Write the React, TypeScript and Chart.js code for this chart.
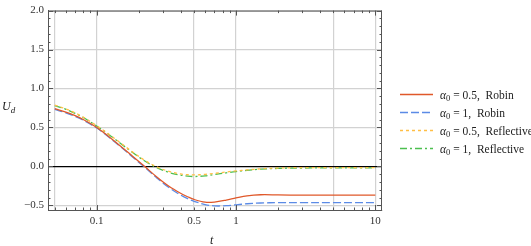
import { useEffect, useRef } from "react";
import { Chart, registerables } from "chart.js";

Chart.register(...registerables);

const tValues = [0.05, 0.06, 0.07, 0.08, 0.1, 0.12, 0.15, 0.18, 0.22, 0.27, 0.33, 0.4, 0.45, 0.5, 0.6, 0.7, 0.85, 1, 1.2, 1.5, 2, 3, 5, 7, 10];
const robinA05 = [0.741, 0.698, 0.651, 0.602, 0.5, 0.393, 0.252, 0.133, 0.002, -0.136, -0.255, -0.345, -0.39, -0.425, -0.46, -0.458, -0.433, -0.405, -0.378, -0.364, -0.366, -0.37, -0.37, -0.37, -0.37];
const robinA1 = [0.731, 0.688, 0.641, 0.593, 0.492, 0.386, 0.245, 0.124, -0.008, -0.148, -0.272, -0.368, -0.415, -0.448, -0.49, -0.507, -0.505, -0.493, -0.48, -0.47, -0.466, -0.466, -0.466, -0.466, -0.466];
const reflA05 = [0.785, 0.738, 0.686, 0.632, 0.522, 0.424, 0.294, 0.188, 0.08, -0.005, -0.065, -0.097, -0.107, -0.11, -0.103, -0.09, -0.072, -0.058, -0.045, -0.031, -0.021, -0.016, -0.015, -0.015, -0.015];
const reflA1 = [0.78, 0.733, 0.681, 0.627, 0.518, 0.419, 0.288, 0.181, 0.072, -0.017, -0.078, -0.112, -0.125, -0.13, -0.122, -0.105, -0.083, -0.066, -0.051, -0.036, -0.026, -0.021, -0.02, -0.02, -0.02];

const alphaValues = ["0.5", "1", "0.5", "1"];
const conditionNames = ["Robin", "Robin", "Reflective", "Reflective"];
const seriesColors = ["#e0582a", "#5b8be6", "#ffbe45", "#4cbf4f"];
const seriesDashes = [[], [8, 3], [3, 3], [7, 3, 2, 3]];

const xTickValues = [0.05, 0.1, 0.5, 1, 5, 10];
const xTickLabels = ["", "0.1", "0.5", "1", "", "10"];
const yTickValues = [-0.5, 0, 0.5, 1, 1.5, 2];

const SERIF = "'Liberation Serif', 'DejaVu Serif', serif";

export default function App() {
  const ref = useRef<HTMLCanvasElement | null>(null);
  useEffect(() => {
    const canvas = ref.current;
    if (!canvas) return;
    const all = [robinA05, robinA1, reflA05, reflA1];
    const framePlugin = {
      id: "framePlugin",
      afterDraw(chart: any) {
        const ctx = chart.ctx as CanvasRenderingContext2D;
        const { left, right, top, bottom } = chart.chartArea;
        const xs = chart.scales.x;
        const ys = chart.scales.y;
        ctx.save();
        ctx.strokeStyle = "#555";
        ctx.lineWidth = 1;
        ctx.setLineDash([]);
        ctx.beginPath();
        ctx.moveTo(left, top + 0.5);
        ctx.lineTo(right, top + 0.5);
        ctx.moveTo(right - 0.5, top);
        ctx.lineTo(right - 0.5, bottom);
        ctx.stroke();
        ctx.beginPath();
        for (let i = -5; i <= 20; i++) {
          const v = i / 10;
          const y = Math.round(ys.getPixelForValue(v)) + 0.5;
          const len = i % 5 === 0 ? 5 : 2.5;
          ctx.moveTo(left, y);
          ctx.lineTo(left + len, y);
          ctx.moveTo(right, y);
          ctx.lineTo(right - len, y);
        }
        const minor: number[] = [];
        for (const d of [0.01, 0.1, 1]) for (let k = 2; k <= 9; k++) minor.push(d * k);
        for (const v of minor) {
          if (v < xs.min || v > xs.max) continue;
          const x = Math.round(xs.getPixelForValue(v)) + 0.5;
          ctx.moveTo(x, bottom);
          ctx.lineTo(x, bottom - 2.5);
          ctx.moveTo(x, top);
          ctx.lineTo(x, top + 2.5);
        }
        for (const v of [0.1, 1, 10]) {
          const x = Math.round(xs.getPixelForValue(v)) + 0.5;
          ctx.moveTo(x, bottom);
          ctx.lineTo(x, bottom - 5);
          ctx.moveTo(x, top);
          ctx.lineTo(x, top + 5);
        }
        ctx.stroke();

        ctx.fillStyle = "#222";
        ctx.textBaseline = "alphabetic";
        ctx.textAlign = "left";
        ctx.font = `italic 12px ${SERIF}`;
        ctx.fillText("U", 2, 110);
        const uw = ctx.measureText("U").width;
        ctx.font = `italic 9px ${SERIF}`;
        ctx.fillText("d", 2 + uw, 113);
        ctx.font = `italic 12px ${SERIF}`;
        ctx.fillText("t", 210, 244);

        const rows = [94.5, 112.5, 130.5, 148.5];
        for (let i = 0; i < 4; i++) {
          const y = rows[i];
          ctx.strokeStyle = seriesColors[i];
          ctx.lineWidth = 1.3;
          ctx.setLineDash(seriesDashes[i]);
          ctx.beginPath();
          ctx.moveTo(400, y);
          ctx.lineTo(433, y);
          ctx.stroke();
          ctx.setLineDash([]);
          ctx.fillStyle = "#222";
          let x = 440;
          const base = y + 4;
          ctx.font = `italic 11.5px ${SERIF}`;
          ctx.fillText("α", x, base);
          x += ctx.measureText("α").width;
          ctx.font = `8.5px ${SERIF}`;
          ctx.fillText("0", x, base + 2.5);
          x += ctx.measureText("0").width;
          ctx.font = `11.5px ${SERIF}`;
          const rest = ` = ${alphaValues[i]},  ${conditionNames[i]}`;
          ctx.fillText(rest, x, base);
        }
        ctx.restore();
      },
    };

    const chart = new Chart(canvas, {
      type: "line",
      data: {
        datasets: all.map((vals, i) => ({
          label: `α0 = ${alphaValues[i]}, ${conditionNames[i]}`,
          data: tValues.map((t, j) => ({ x: t, y: vals[j] })),
          borderColor: seriesColors[i],
          borderDash: seriesDashes[i],
          borderWidth: 1.3,
          pointRadius: 0,
          fill: false,
          tension: 0.35,
        })),
      },
      options: {
        animation: false,
        responsive: false,
        maintainAspectRatio: false,
        layout: { padding: { top: 4, right: 149, left: 0, bottom: 0 } },
        plugins: { legend: { display: false }, tooltip: { enabled: false } },
        scales: {
          x: {
            type: "logarithmic",
            min: 0.0447,
            max: 11.17,
            afterFit(s: any) {
              s.height = 36;
            },
            afterBuildTicks(s: any) {
              s.ticks = xTickValues.map((v) => ({ value: v }));
            },
            ticks: {
              autoSkip: false,
              maxRotation: 0,
              padding: 5,
              color: "#333",
              font: { family: SERIF, size: 11 },
              callback: (_v: any, idx: number) => xTickLabels[idx],
            },
            grid: { color: "#d2d2d2", lineWidth: 1.2, drawTicks: false },
            border: { color: "#555", width: 1 },
          },
          y: {
            min: -0.56,
            max: 2.0,
            afterFit(s: any) {
              s.width = 48;
            },
            afterBuildTicks(s: any) {
              s.ticks = yTickValues.map((v) => ({ value: v }));
            },
            ticks: {
              padding: 4,
              color: "#333",
              font: { family: SERIF, size: 11 },
              callback: (v: any) => {
                const n = Number(v);
                return n < 0 ? "\u2212" + Math.abs(n).toFixed(1) : n.toFixed(1);
              },
            },
            grid: {
              color: (c: any) => (c.tick && c.tick.value === 0 ? "#000" : "#d2d2d2"),
              lineWidth: 1.2,
              drawTicks: false,
            },
            border: { color: "#555", width: 1 },
          },
        },
      },
      plugins: [framePlugin],
    });
    return () => chart.destroy();
  }, []);

  return (
    <div style={{ position: "absolute", left: 0, top: 0, width: 531, height: 246, background: "#fff" }}>
      <canvas ref={ref} width={531} height={246} style={{ display: "block" }} />
    </div>
  );
}
